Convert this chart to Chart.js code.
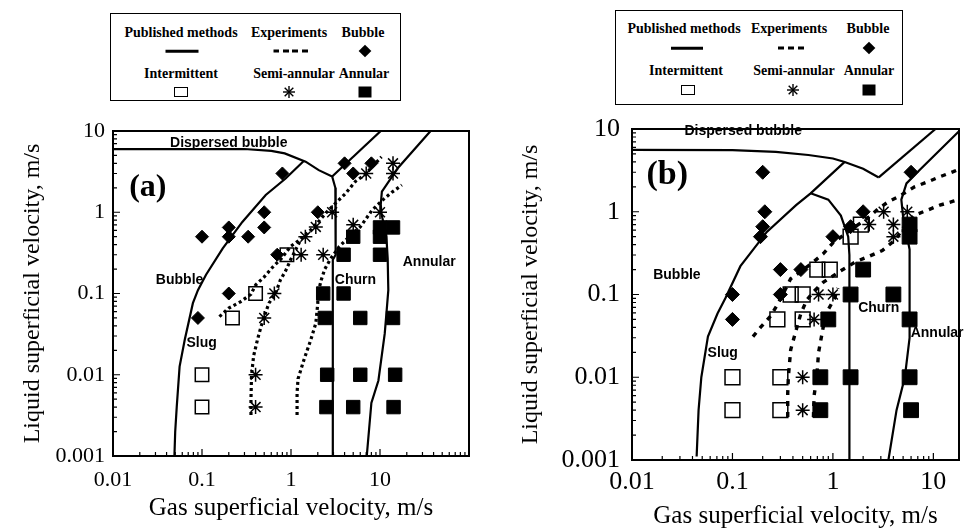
<!DOCTYPE html>
<html><head><meta charset="utf-8">
<script src="https://cdn.jsdelivr.net/npm/chart.js@4.4.1/dist/chart.umd.min.js"></script>
<style>
html,body{margin:0;padding:0;background:#fff;}
#wrap{position:relative;width:971px;height:529px;overflow:hidden;background:#fff;}
canvas{position:absolute;top:0;}
.lg{position:absolute;border:1.5px solid #000;box-sizing:border-box;background:#fff;font-family:"Liberation Serif","Times New Roman",serif;font-weight:bold;font-size:14px;color:#000;}
.it{position:absolute;transform:translate(-50%,-50%);white-space:nowrap;line-height:1;}
.sl{height:2.5px;background:#000;}
.dl{height:3px;}
.dm{width:9px;height:9px;background:#000;transform:translate(-50%,-50%) rotate(45deg);}
.os{width:14px;height:10px;border:1.5px solid #000;box-sizing:border-box;}
.fs{width:13px;height:11px;background:#000;}
</style></head>
<body>
<div id="wrap">
  <canvas id="ca" width="480" height="529" style="left:0"></canvas>
  <canvas id="cb" width="491" height="529" style="left:480px"></canvas>

  <div class="lg" style="left:110px;top:13px;width:291px;height:88px">
    <span class="it" style="left:70px;top:19px">Published methods</span>
    <span class="it" style="left:178px;top:19px">Experiments</span>
    <span class="it" style="left:252px;top:19px">Bubble</span>
    <div class="it sl" style="left:71px;top:37px;width:33px"></div>
    <div class="it dl" style="left:180px;top:37px;width:35px;background:repeating-linear-gradient(90deg,#000 0 6px,transparent 6px 9.5px)"></div>
    <div class="it dm" style="left:254px;top:37px"></div>
    <span class="it" style="left:70px;top:60px">Intermittent</span>
    <span class="it" style="left:183px;top:60px">Semi-annular</span>
    <span class="it" style="left:253px;top:60px">Annular</span>
    <div class="it os" style="left:70px;top:78px"></div>
    <svg class="it" style="left:178px;top:78px" width="14" height="14" viewBox="-7 -7 14 14"><g stroke="#000" stroke-width="1.4"><line x1="-6" y1="0" x2="6" y2="0"/><line x1="0" y1="-6" x2="0" y2="6"/><line x1="-4.3" y1="-4.3" x2="4.3" y2="4.3"/><line x1="-4.3" y1="4.3" x2="4.3" y2="-4.3"/></g></svg>
    <div class="it fs" style="left:254px;top:78px"></div>
  </div>

  <div class="lg" style="left:615px;top:10px;width:288px;height:95px">
    <span class="it" style="left:68px;top:18px">Published methods</span>
    <span class="it" style="left:173px;top:18px">Experiments</span>
    <span class="it" style="left:252px;top:18px">Bubble</span>
    <div class="it sl" style="left:71px;top:37px;width:32px"></div>
    <div class="it dl" style="left:175px;top:37px;width:26px;background:repeating-linear-gradient(90deg,#000 0 6px,transparent 6px 10px)"></div>
    <div class="it dm" style="left:253px;top:37px"></div>
    <span class="it" style="left:70px;top:60px">Intermittent</span>
    <span class="it" style="left:178px;top:60px">Semi-annular</span>
    <span class="it" style="left:253px;top:60px">Annular</span>
    <div class="it os" style="left:72px;top:79px"></div>
    <svg class="it" style="left:177px;top:79px" width="14" height="14" viewBox="-7 -7 14 14"><g stroke="#000" stroke-width="1.4"><line x1="-6" y1="0" x2="6" y2="0"/><line x1="0" y1="-6" x2="0" y2="6"/><line x1="-4.3" y1="-4.3" x2="4.3" y2="4.3"/><line x1="-4.3" y1="4.3" x2="4.3" y2="-4.3"/></g></svg>
    <div class="it fs" style="left:253px;top:79px"></div>
  </div>
</div>
<script>
// ---------- tick labels ----------
const xTickValues = [0.01, 0.1, 1, 10];
const xTickLabels = ['0.01', '0.1', '1', '10'];
const yTickValues = [0.001, 0.01, 0.1, 1, 10];
const yTickLabels = ['0.001', '0.01', '0.1', '1', '10'];

// ---------- panel (a): published boundaries [gas, liquid] ----------
const aDispersed = [[0.01,6.0],[0.3,6.0],[0.6,5.7],[0.85,5.3],[1.46,4.2],[2.05,3.3],[2.9,2.75],[3.15,2.0],[3.2,1.4],[3.15,0.3],[2.95,0.26],[2.95,0.001]];
const aDiagonal = [[2.9,2.75],[10.2,10]];
const aBubbleSlug = [[0.049,0.001],[0.05,0.002],[0.052,0.004],[0.056,0.0126],[0.064,0.027],[0.079,0.076],[0.09,0.11],[0.111,0.17],[0.171,0.36],[0.284,0.76],[0.52,1.63],[0.87,2.6],[1.4,4.3]];
const aChurnAnnular = [[7.1,0.001],[8.0,0.0045],[9.6,0.0085],[11.3,0.032],[11.9,0.063],[12.4,0.11],[12.2,0.27],[11.8,0.5],[10.4,0.95],[10.2,1.25],[10.5,1.8],[12.9,2.5],[15.9,3.5],[37,10]];
// panel (a): experimental boundaries
const aDashA = [[0.157,0.052],[0.2,0.066],[0.27,0.079],[0.355,0.098],[0.4,0.127],[0.5,0.16],[0.62,0.21],[0.78,0.27],[0.99,0.38],[1.23,0.45],[1.58,0.57],[2.0,0.75],[2.55,1.02],[3.3,1.35],[4.1,1.7],[5.3,2.4],[6.8,2.9],[8.5,3.8],[10.4,4.8]];
const aDashB = [[0.355,0.0032],[0.355,0.0049],[0.36,0.0098],[0.38,0.017],[0.42,0.027],[0.46,0.039],[0.5,0.052],[0.565,0.076],[0.67,0.1],[0.76,0.147],[0.87,0.19],[0.99,0.26],[1.15,0.36],[1.3,0.47]];
const aDashC = [[1.17,0.0032],[1.17,0.006],[1.2,0.0089],[1.39,0.015],[1.67,0.027],[1.9,0.043],[2.0,0.076],[2.0,0.1],[2.2,0.15],[2.4,0.2],[2.8,0.27],[3.5,0.38],[4.5,0.5],[6.0,0.66],[6.8,0.8],[8.2,1.07],[11,1.45],[13.5,1.75],[17.6,2.16]];
// panel (a): observations
const aBubble = [[0.8,3],[0.5,1],[0.5,0.65],[0.2,0.65],[0.2,0.5],[0.33,0.5],[0.1,0.5],[2,1],[4,4],[5,3],[8,4],[0.2,0.1],[0.09,0.05],[0.7,0.3]];
const aIntermittent = [[0.9,0.3],[0.4,0.1],[0.22,0.05],[0.1,0.01],[0.1,0.004]];
const aSemiAnnular = [[0.65,0.1],[0.5,0.05],[0.4,0.01],[0.4,0.004],[1.3,0.3],[2.3,0.3],[1.45,0.5],[1.9,0.66],[2.9,1],[5,0.7],[7,3],[14,4],[14,3],[10,1]];
const aAnnular = [[5,0.5],[10,0.5],[10,0.65],[14,0.65],[3.9,0.3],[10,0.3],[2.3,0.1],[3.9,0.1],[2.4,0.05],[6,0.05],[14,0.05],[2.55,0.01],[6,0.01],[14.8,0.01],[2.5,0.004],[5,0.004],[14.2,0.004]];

// ---------- panel (b) ----------
const bDispersed = [[0.01,5.6],[0.1,5.55],[0.27,5.3],[0.57,4.85],[1.0,4.4],[1.31,4.0],[2.0,3.3],[2.86,2.6]];
const bDiagonal = [[2.86,2.6],[10.5,10]];
const bBubbleSlug = [[0.044,0.0011],[0.046,0.004],[0.049,0.01],[0.057,0.031],[0.071,0.059],[0.085,0.09],[0.12,0.22],[0.22,0.57],[0.43,1.2],[0.6,1.67],[1.31,4.0]];
const bSlugChurn = [[0.6,1.67],[0.9,1.4],[1.2,0.9],[1.42,0.5],[1.46,0.3],[1.46,0.001]];
const bChurnAnnular = [[3.57,0.001],[4.3,0.004],[5.2,0.01],[5.8,0.03],[5.8,0.1],[5.8,0.35],[5.0,0.87],[4.8,1.4],[5.4,2.2],[7.3,3.2],[19,10]];
const bDashP = [[0.16,0.031],[0.19,0.04],[0.24,0.055],[0.28,0.075],[0.33,0.11],[0.38,0.155],[0.48,0.19],[0.62,0.24],[0.8,0.31],[1.0,0.42],[1.67,0.66],[2.3,0.87],[2.86,1.1],[3.6,1.33],[4.5,1.52],[6.5,2.0],[8.8,2.3],[11.6,2.65],[15.8,3.05],[19.5,3.4]];
const bDashQ = [[0.355,0.0033],[0.355,0.0064],[0.36,0.01],[0.38,0.0215],[0.43,0.037],[0.48,0.059],[0.55,0.086],[0.65,0.11],[0.8,0.14],[1.17,0.19],[1.7,0.25],[2.3,0.29],[3.1,0.34],[4.2,0.46],[5.3,0.7],[6.5,0.91],[8.8,1.05],[11.6,1.2],[15.8,1.34],[19,1.43]];
const bDashS = [[0.64,0.0033],[0.65,0.006],[0.69,0.01],[0.72,0.02],[0.8,0.04],[0.9,0.066],[1.04,0.09],[1.12,0.12]];
const bBubble = [[0.2,3],[0.21,1],[0.2,0.66],[0.19,0.5],[0.3,0.2],[0.48,0.2],[0.1,0.1],[0.3,0.1],[0.1,0.05],[6,3],[2,1],[1.5,0.66],[1.0,0.5]];
const bIntermittent = [[0.7,0.2],[0.93,0.2],[0.38,0.1],[0.5,0.1],[0.28,0.05],[0.5,0.05],[0.1,0.01],[0.3,0.01],[0.1,0.004],[0.3,0.004],[1.9,0.7],[1.5,0.5]];
const bSemiAnnular = [[0.72,0.1],[1.0,0.1],[0.65,0.05],[0.5,0.01],[0.5,0.004],[2.3,0.7],[3.2,1.0],[4,0.7],[4,0.5],[5.5,1.0]];
const bAnnular = [[5.8,0.7],[5.8,0.5],[2,0.2],[1.5,0.1],[4,0.1],[0.9,0.05],[5.8,0.05],[0.75,0.01],[1.5,0.01],[5.8,0.01],[0.75,0.004],[6,0.004]];

// ---------- region labels [text, gas, liquid] ----------
const aLabels = [['Dispersed bubble',0.2,7.1],['Bubble',0.056,0.147],['Churn',5.3,0.147],['Annular',35.7,0.244],['Slug',0.099,0.0246],['(a)',0.0246,1.99]];
const bLabels = [['Dispersed bubble',0.128,9.46],['Bubble',0.028,0.172],['Churn',2.86,0.069],['Annular',10.9,0.034],['Slug',0.08,0.0196],['(b)',0.0224,2.78]];

// ---------- helpers ----------
const P = a => a.map(([x, y]) => ({x, y}));
function lineDs(d, dash, w) {
  return {data: P(d), showLine: true, borderColor: '#000', borderWidth: w, borderDash: dash || [],
          borderCapStyle: 'butt', pointRadius: 0, pointHoverRadius: 0, tension: 0, fill: false};
}
function ptDs(d, style, filled, r) {
  return {data: P(d), showLine: false, pointStyle: style, pointRadius: r, pointHoverRadius: r,
          backgroundColor: filled ? '#000' : 'rgba(0,0,0,0)', borderColor: '#000', borderWidth: filled ? 1 : 1.5};
}

const framePlugin = {
  id: 'frame',
  afterDatasetsDraw(chart) {
    const {ctx, chartArea: a, scales: {x, y}} = chart;
    ctx.save();
    ctx.strokeStyle = '#000';
    ctx.lineWidth = 1.2;
    ctx.beginPath();
    for (let e = -3; e <= 2; e++) {
      for (let m = 1; m < 10; m++) {
        const v = m * Math.pow(10, e);
        const len = m === 1 ? 7 : 4;
        if (v >= x.min * 0.999 && v <= x.max * 1.001) {
          const px = x.getPixelForValue(v);
          ctx.moveTo(px, a.bottom); ctx.lineTo(px, a.bottom - len);
        }
        if (v >= y.min * 0.999 && v <= y.max * 1.001) {
          const py = y.getPixelForValue(v);
          ctx.moveTo(a.left, py); ctx.lineTo(a.left + len, py);
        }
      }
    }
    ctx.stroke();
    ctx.lineWidth = 2;
    ctx.strokeRect(a.left, a.top, a.right - a.left, a.bottom - a.top);
    ctx.restore();
  }
};
const textPlugin = {
  id: 'txt',
  afterDatasetsDraw(chart, args, opts) {
    const {ctx, scales: {x, y}} = chart;
    ctx.save();
    ctx.fillStyle = '#000';
    ctx.textAlign = 'center';
    ctx.textBaseline = 'middle';
    for (const [t, gx, ly] of opts.items) {
      const paren = t.startsWith('(');
      ctx.font = paren ? 'bold ' + opts.parenSize + 'px "Liberation Serif"' : 'bold 14px "Liberation Sans"';
      ctx.fillText(t, x.getPixelForValue(gx), y.getPixelForValue(ly));
    }
    ctx.restore();
  }
};

function panel(id, o) {
  const serif = 'Liberation Serif';
  return new Chart(document.getElementById(id), {
    type: 'scatter',
    data: {datasets: [
      ptDs(o.bubble, 'rectRot', true, o.dia),
      ptDs(o.inter, 'rect', false, o.sq),
      ptDs(o.semi, 'star', false, 7),
      ptDs(o.ann, 'rect', true, o.sq),
      ...o.solid.map(d => lineDs(d, null, 2.2)),
      ...o.dashed.map(d => lineDs(d, o.dash, o.dashW))
    ]},
    options: {
      responsive: false, animation: false, events: [],
      layout: {padding: o.pad},
      plugins: {legend: {display: false}, tooltip: {enabled: false},
                txt: {items: o.labels, parenSize: o.parenSize}},
      scales: {
        x: {type: 'logarithmic', min: 0.01, max: o.xmax,
            afterBuildTicks: s => { s.ticks = xTickValues.map(v => ({value: v})); },
            afterFit: s => { s.height = o.xh; },
            ticks: {autoSkip: false, maxRotation: 0, color: '#000', padding: o.xtp,
                    font: {family: serif, size: o.tickSize}, callback: (v, i) => xTickLabels[i]},
            grid: {display: false, drawTicks: false}, border: {display: false},
            title: {display: true, text: 'Gas superficial velocity, m/s', color: '#000',
                    font: {family: serif, size: 25, lineHeight: 1}, padding: {top: 0, bottom: o.xtb}}},
        y: {type: 'logarithmic', min: 0.001, max: 10,
            afterBuildTicks: s => { s.ticks = yTickValues.map(v => ({value: v})); },
            afterFit: s => { s.width = o.yw; },
            ticks: {autoSkip: false, color: '#000', padding: o.ytp,
                    font: {family: serif, size: o.tickSize}, callback: (v, i) => yTickLabels[i]},
            grid: {display: false, drawTicks: false}, border: {display: false},
            title: {display: true, text: 'Liquid superficial velocity, m/s', color: '#000',
                    font: {family: serif, size: 24, lineHeight: 1}, padding: {top: o.ytt, bottom: 0}}}
      }
    },
    plugins: [framePlugin, textPlugin]
  });
}

panel('ca', {
  bubble: aBubble, inter: aIntermittent, semi: aSemiAnnular, ann: aAnnular,
  solid: [aDispersed, aDiagonal, aBubbleSlug, aChurnAnnular],
  dashed: [aDashA, aDashB, aDashC], dash: [3, 3], dashW: 3.2,
  labels: aLabels, parenSize: 32, dia: 6.5, sq: 9.5,
  xmax: 100, pad: {left: 0, top: 131, right: 9, bottom: 0},
  xh: 73, yw: 113, tickSize: 22, xtp: 11, ytp: 8, xtb: 8, ytt: 21
});
panel('cb', {
  bubble: bBubble, inter: bIntermittent, semi: bSemiAnnular, ann: bAnnular,
  solid: [bDispersed, bDiagonal, bBubbleSlug, bSlugChurn, bChurnAnnular],
  dashed: [bDashP, bDashQ, bDashS], dash: [5, 6], dashW: 3.4,
  labels: bLabels, parenSize: 34, dia: 7, sq: 10.5,
  xmax: 18, pad: {left: 0, top: 129, right: 5, bottom: 0},
  xh: 69, yw: 152, tickSize: 26, xtp: 7, ytp: 12, xtb: 0, ytt: 39
});
</script>
</body></html>
